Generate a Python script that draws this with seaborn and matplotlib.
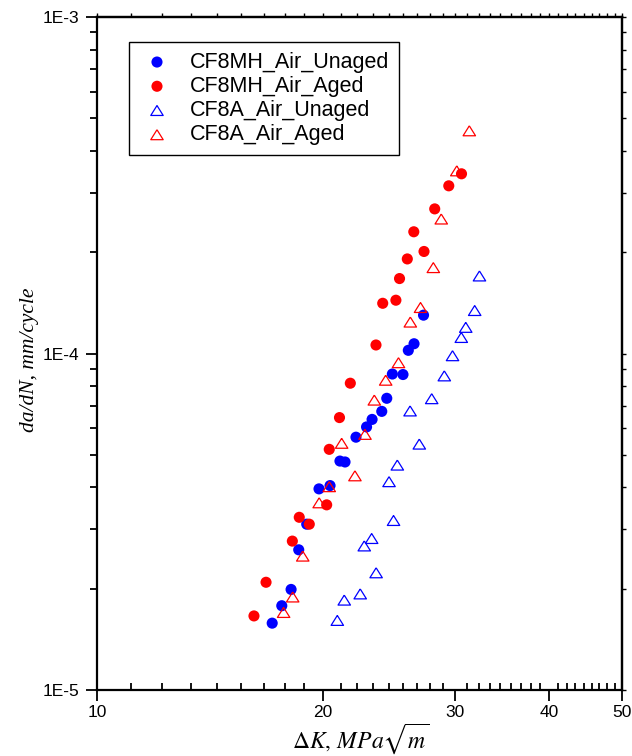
import numpy as np
import pandas as pd
import matplotlib
matplotlib.use("Agg")
import matplotlib.pyplot as plt
import seaborn as sns
from matplotlib.ticker import FixedLocator, FixedFormatter, NullFormatter, LogLocator

# Crack growth data: stress intensity range (MPa*sqrt(m)) and growth rate (mm/cycle)
dk_cf8mh_unaged = [17.11, 17.62, 18.13, 18.56, 19.02, 19.75, 20.43, 21.06, 21.39, 22.12,
                   22.85, 23.24, 23.94, 24.31, 24.73, 25.55, 25.97, 26.43, 27.21]
dadn_cf8mh_unaged = [1.58e-5, 1.78e-5, 1.99e-5, 2.61e-5, 3.11e-5, 3.96e-5, 4.05e-5, 4.79e-5, 4.76e-5, 5.64e-5,
                     6.05e-5, 6.37e-5, 6.73e-5, 7.36e-5, 8.69e-5, 8.66e-5, 1.022e-4, 1.069e-4, 1.30e-4]

dk_cf8mh_aged = [16.18, 16.79, 18.20, 18.59, 19.17, 20.22, 20.38, 21.03, 21.74, 23.52,
                 24.01, 25.00, 25.28, 25.89, 26.41, 27.25, 28.16, 29.40, 30.57]
dadn_cf8mh_aged = [1.66e-5, 2.09e-5, 2.77e-5, 3.26e-5, 3.11e-5, 3.55e-5, 5.19e-5, 6.45e-5, 8.16e-5, 1.06e-4,
                   1.41e-4, 1.44e-4, 1.67e-4, 1.91e-4, 2.30e-4, 2.01e-4, 2.69e-4, 3.15e-4, 3.42e-4]

dk_cf8a_unaged = [20.89, 21.34, 22.41, 23.53, 22.69, 23.21, 24.82, 24.48, 25.11, 26.86,
                  26.11, 27.90, 29.00, 29.74, 30.55, 30.97, 31.83, 32.30]
dadn_cf8a_unaged = [1.61e-5, 1.85e-5, 1.93e-5, 2.23e-5, 2.68e-5, 2.82e-5, 3.19e-5, 4.16e-5, 4.66e-5, 5.38e-5,
                    6.75e-5, 7.34e-5, 8.58e-5, 9.85e-5, 1.116e-4, 1.196e-4, 1.342e-4, 1.70e-4]

dk_cf8a_aged = [17.72, 18.22, 18.79, 19.76, 20.38, 21.17, 22.05, 22.74, 23.40, 24.23,
                25.20, 26.13, 26.96, 28.04, 28.73, 30.13, 31.31]
dadn_cf8a_aged = [1.70e-5, 1.89e-5, 2.50e-5, 3.60e-5, 4.02e-5, 5.41e-5, 4.33e-5, 5.75e-5, 7.27e-5, 8.33e-5,
                  9.39e-5, 1.24e-4, 1.37e-4, 1.80e-4, 2.51e-4, 3.49e-4, 4.59e-4]

series_labels = ["CF8MH_Air_Unaged", "CF8MH_Air_Aged", "CF8A_Air_Unaged", "CF8A_Air_Aged"]

x_major = [10, 20, 30, 40, 50]
x_major_labels = ["10", "20", "30", "40", "50"]
y_major = [1e-5, 1e-4, 1e-3]
y_major_labels = ["1E-5", "1E-4", "1E-3"]

sns.set_theme(style="ticks", rc={"axes.edgecolor": "black", "xtick.color": "black",
                                 "ytick.color": "black", "text.color": "black",
                                 "axes.labelcolor": "black"})
plt.rcParams["font.family"] = ["Liberation Sans", "DejaVu Sans"]
plt.rcParams["mathtext.fontset"] = "stix"

fig = plt.figure(figsize=(6.32, 7.56), dpi=100)
ax = fig.add_axes([97 / 632, 66 / 756, 525 / 632, 673 / 756])
ax.set_xscale("log")
ax.set_yscale("log")

blue = "#0000ff"
red = "#ff0000"
# open triangle, slightly wider than tall
tri = [(0, 0.8), (-1, -0.8), (1, -0.8), (0, 0.8)]

sns.scatterplot(x=dk_cf8mh_unaged, y=dadn_cf8mh_unaged, ax=ax, marker="o", s=64,
                color=blue, edgecolor="none", linewidth=0, label=series_labels[0], legend=False, zorder=3)
sns.scatterplot(x=dk_cf8mh_aged, y=dadn_cf8mh_aged, ax=ax, marker="o", s=64,
                color=red, edgecolor="none", linewidth=0, label=series_labels[1], legend=False, zorder=3)
sns.scatterplot(x=dk_cf8a_unaged, y=dadn_cf8a_unaged, ax=ax, marker=tri, s=80,
                color=blue, facecolor="none", edgecolor=blue, linewidth=0.9,
                label=series_labels[2], legend=False, zorder=3)
sns.scatterplot(x=dk_cf8a_aged, y=dadn_cf8a_aged, ax=ax, marker=tri, s=80,
                color=red, facecolor="none", edgecolor=red, linewidth=0.9,
                label=series_labels[3], legend=False, zorder=3)

ax.set_xlim(10, 50)
ax.set_ylim(1e-5, 1e-3)

# minor x ticks: eight evenly spaced between neighbouring major ticks
x_minor = []
for lo, hi in zip(x_major[:-1], x_major[1:]):
    x_minor.extend(np.linspace(lo, hi, 10)[1:-1])

ax.xaxis.set_major_locator(FixedLocator(x_major))
ax.xaxis.set_major_formatter(FixedFormatter(x_major_labels))
ax.xaxis.set_minor_locator(FixedLocator(x_minor))
ax.xaxis.set_minor_formatter(NullFormatter())
ax.yaxis.set_major_locator(FixedLocator(y_major))
ax.yaxis.set_major_formatter(FixedFormatter(y_major_labels))
ax.yaxis.set_minor_locator(LogLocator(base=10, subs=np.arange(2, 10)))
ax.yaxis.set_minor_formatter(NullFormatter())

ax.tick_params(axis="x", which="major", direction="out", length=8, width=1.3,
               bottom=True, top=False, labelsize=12.5, pad=3)
ax.tick_params(axis="x", which="minor", direction="in", length=5, width=1.3,
               bottom=True, top=False)
ax.tick_params(axis="y", which="major", direction="out", length=8, width=1.3,
               left=True, right=False, labelsize=12.5, pad=5)
ax.tick_params(axis="y", which="minor", direction="out", length=5, width=1.3,
               left=True, right=False)

for sp in ax.spines.values():
    sp.set_visible(True)
    sp.set_linewidth(1.6)
    sp.set_color("black")

# small outward ticks on the top and right frame
top = ax.secondary_xaxis("top")
top.xaxis.set_major_locator(FixedLocator(x_major))
top.xaxis.set_minor_locator(FixedLocator(x_minor))
top.tick_params(axis="x", which="both", direction="out", length=3, width=1.0,
                labeltop=False, labelbottom=False)
right = ax.secondary_yaxis("right")
right.yaxis.set_major_locator(FixedLocator(y_major))
right.yaxis.set_minor_locator(LogLocator(base=10, subs=np.arange(2, 10)))
right.tick_params(axis="y", which="both", direction="out", length=3, width=1.0,
                  labelright=False, labelleft=False)
for sec in (top, right):
    for sp in sec.spines.values():
        sp.set_linewidth(1.6)
        sp.set_color("black")

ax.set_ylabel("da/dN, mm/cycle", fontfamily="Liberation Serif", fontstyle="italic", fontsize=15.5)
ax.yaxis.set_label_coords(-0.110, 0.49)
ax.set_xlabel(r"$\Delta K,\,MPa\sqrt{m}$", fontsize=17)
ax.xaxis.set_label_coords(0.503, -0.046)

leg = ax.legend(loc="upper left", bbox_to_anchor=((129 - 97) / 525, (690 - 42) / 673),
                borderaxespad=0, frameon=True, fancybox=False, shadow=False,
                edgecolor="black", framealpha=1,
                prop={"family": ["Liberation Sans"], "size": 15.5},
                handlelength=1.7, handletextpad=0.7, labelspacing=0.15, borderpad=0.45)
leg.get_frame().set_linewidth(1.0)

fig.savefig("out.png", dpi=100, facecolor="white")
